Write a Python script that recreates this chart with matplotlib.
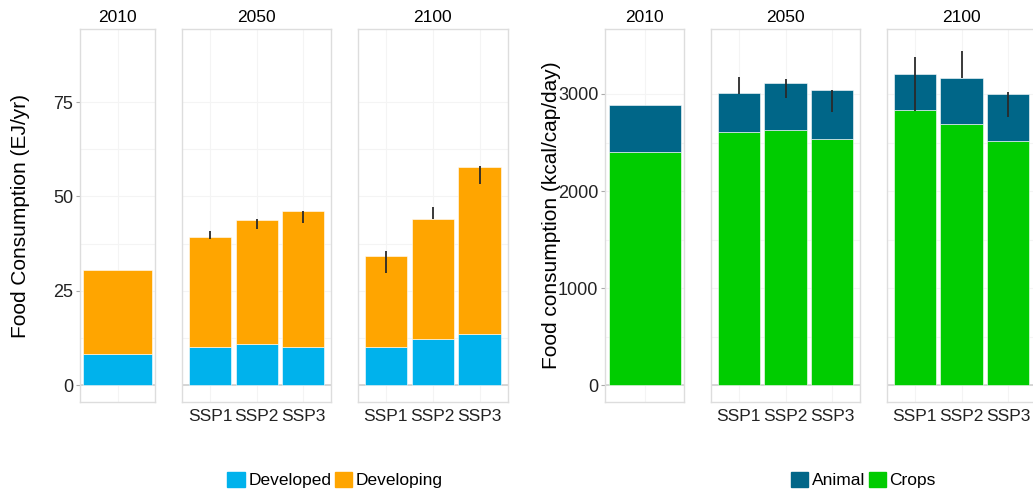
import numpy as np
import matplotlib
matplotlib.use("Agg")
import matplotlib.pyplot as plt
from matplotlib.patches import Patch

plt.rcParams['font.family'] = ['Liberation Sans', 'DejaVu Sans']

ssps = ["SSP1", "SSP2", "SSP3"]

# left chart: food consumption, EJ/yr
ej_developed_2010 = [8.2]
ej_developing_2010 = [22.2]
ej_developed_2050 = [10.2, 10.9, 10.2]
ej_developing_2050 = [29.0, 32.8, 36.0]
ej_developed_2100 = [10.2, 12.2, 13.4]
ej_developing_2100 = [23.9, 31.8, 44.4]
ej_err_lo_2050 = [38.8, 41.5, 42.9]
ej_err_hi_2050 = [40.9, 44.0, 46.1]
ej_err_lo_2100 = [29.8, 44.0, 53.4]
ej_err_hi_2100 = [35.6, 47.1, 58.1]

# right chart: food consumption, kcal/cap/day
kc_crops_2010 = [2399]
kc_animal_2010 = [491]
kc_crops_2050 = [2605, 2629, 2540]
kc_animal_2050 = [405, 481, 501]
kc_crops_2100 = [2835, 2694, 2515]
kc_animal_2100 = [371, 468, 482]
kc_err_lo_2050 = [3000, 2962, 2818]
kc_err_hi_2050 = [3172, 3151, 3041]
kc_err_lo_2100 = [2828, 3162, 2766]
kc_err_hi_2100 = [3378, 3443, 3017]

c_developed = "#00B2EC"
c_developing = "#FFA500"
c_animal = "#006688"
c_crops = "#00CC00"

W, H = 1033, 492
fig = plt.figure(figsize=(W / 100, H / 100), dpi=100)


def add_panel(x0, x1, y0=29, y1=402):
    return fig.add_axes([x0 / W, 1 - y1 / H, (x1 - x0) / W, (y1 - y0) / H])


def style(ax, title, ylim, yticks, first, labels):
    ax.set_ylim(*ylim)
    ax.set_title(title, fontsize=12.5, pad=5)
    for s in ax.spines.values():
        s.set_color("#DDDDDD")
        s.set_linewidth(1.0)
    ax.set_yticks(yticks)
    minor = [(a + b) / 2 for a, b in zip(yticks[:-1], yticks[1:])]
    ax.set_yticks(minor, minor=True)
    ax.grid(True, which="both", color="#F4F4F4", lw=0.8)
    ax.set_axisbelow(True)
    ax.axhline(0, color="#CFCFCF", lw=1.2, zorder=1.5)
    ax.tick_params(axis="y", which="minor", length=0)
    if first:
        ax.tick_params(axis="y", length=3, color="#AAAAAA", labelsize=13,
                       labelcolor="#222222", pad=2)
    else:
        ax.tick_params(axis="y", length=0, labelleft=False)
    ax.tick_params(axis="x", length=0, labelsize=12.5, labelcolor="#222222", pad=5)
    if labels is None:
        ax.set_xticklabels([])


def stacked(ax, bottom_vals, top_vals, c_bottom, c_top, lo=None, hi=None, names=None):
    x = np.arange(len(bottom_vals))
    ax.bar(x, bottom_vals, width=0.9, color=c_bottom, edgecolor="white", lw=0.4, zorder=2)
    ax.bar(x, top_vals, bottom=bottom_vals, width=0.9, color=c_top,
           edgecolor="white", lw=0.4, zorder=2)
    if lo is not None:
        ax.vlines(x, lo, hi, color="#2A2A2A", lw=1.3, zorder=3)
    ax.set_xticks(x)
    if names is not None:
        ax.set_xticklabels(names)
        ax.set_xlim(-0.6, len(x) - 0.4)
    else:
        ax.set_xlim(-0.494, 0.494)


ej_lim = (-4.5, 94.4)
ej_ticks = [0, 25, 50, 75]
kc_lim = (-175, 3670)
kc_ticks = [0, 1000, 2000, 3000]

# left chart
a = add_panel(80, 155.3)
stacked(a, ej_developed_2010, ej_developing_2010, c_developed, c_developing)
style(a, "2010", ej_lim, ej_ticks, True, None)
a = add_panel(182, 331.3)
stacked(a, ej_developed_2050, ej_developing_2050, c_developed, c_developing,
        ej_err_lo_2050, ej_err_hi_2050, ssps)
style(a, "2050", ej_lim, ej_ticks, False, ssps)
a = add_panel(357.7, 507.7)
stacked(a, ej_developed_2100, ej_developing_2100, c_developed, c_developing,
        ej_err_lo_2100, ej_err_hi_2100, ssps)
style(a, "2100", ej_lim, ej_ticks, False, ssps)

# right chart
a = add_panel(605.3, 684.3)
stacked(a, kc_crops_2010, kc_animal_2010, c_crops, c_animal)
style(a, "2010", kc_lim, kc_ticks, True, None)
a = add_panel(710.7, 860.3)
stacked(a, kc_crops_2050, kc_animal_2050, c_crops, c_animal,
        kc_err_lo_2050, kc_err_hi_2050, ssps)
style(a, "2050", kc_lim, kc_ticks, False, ssps)
a = add_panel(886.7, 1036.3)
stacked(a, kc_crops_2100, kc_animal_2100, c_crops, c_animal,
        kc_err_lo_2100, kc_err_hi_2100, ssps)
style(a, "2100", kc_lim, kc_ticks, False, ssps)

fig.text(21 / W, 1 - 215.5 / H, "Food Consumption (EJ/yr)", rotation=90,
         ha="center", va="center", fontsize=15)
fig.text(551.7 / W, 1 - 215.5 / H, "Food consumption (kcal/cap/day)", rotation=90,
         ha="center", va="center", fontsize=15)

leg_kw = dict(ncol=2, frameon=False, fontsize=12.5, handlelength=1.0, handleheight=1.0,
              handletextpad=0.2, columnspacing=0.2, borderaxespad=0)
fig.legend([Patch(color=c_developed), Patch(color=c_developing)],
           ["Developed", "Developing"], loc="center",
           bbox_to_anchor=(335 / W, 1 - 480 / H), **leg_kw)
fig.legend([Patch(color=c_animal), Patch(color=c_crops)],
           ["Animal", "Crops"], loc="center",
           bbox_to_anchor=(863.5 / W, 1 - 480 / H), **leg_kw)

fig.savefig("out.png", dpi=100)
